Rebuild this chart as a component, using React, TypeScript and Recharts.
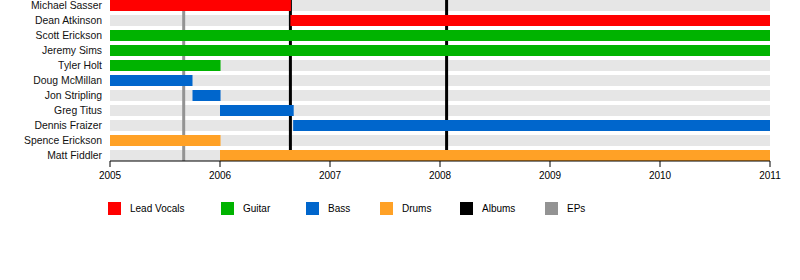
import React from 'react'
import {
  BarChart, Bar, XAxis, YAxis, ReferenceLine, Legend, Cell,
} from 'recharts'

// band members, top to bottom
const members = [
  'Michael Sasser', 'Dean Atkinson', 'Scott Erickson', 'Jeremy Sims', 'Tyler Holt',
  'Doug McMillan', 'Jon Stripling', 'Greg Titus', 'Dennis Fraizer', 'Spence Erickson', 'Matt Fiddler',
]
const roles = [
  'Lead Vocals', 'Lead Vocals', 'Guitar', 'Guitar', 'Guitar',
  'Bass', 'Bass', 'Bass', 'Bass', 'Drums', 'Drums',
]
const starts = [2005, 2006.64, 2005, 2005, 2005, 2005, 2005.75, 2006, 2006.665, 2005, 2006]
const ends = [2006.645, 2011, 2011, 2011, 2006.005, 2005.75, 2006.005, 2006.67, 2011, 2006.005, 2011]

const yearTicks = [2005, 2006, 2007, 2008, 2009, 2010, 2011]
const albumDates = [2006.64, 2008.06]
const epDates = [2005.67]

const legendItems = ['Lead Vocals', 'Guitar', 'Bass', 'Drums', 'Albums', 'EPs']
// horizontal slot of each legend entry, px
const legendSlots = [113, 85, 74, 80, 85, 60]

const COLORS: Record<string, string> = {
  'Lead Vocals': '#ff0000',
  Guitar: '#00b300',
  Bass: '#0066cc',
  Drums: '#ffa126',
  Albums: '#000000',
  EPs: '#939393',
}

const FONT = '"Liberation Sans", Arial, sans-serif'

const data = members.map((name, i) => ({
  name,
  role: roles[i],
  span: [starts[i], ends[i]],
  full: [yearTicks[0], yearTicks[yearTicks.length - 1]],
}))

function TimelineLegend() {
  return (
    <div style={{ display: 'flex', height: 20, alignItems: 'center', paddingLeft: 108, fontFamily: FONT, fontSize: 10, color: '#000' }}>
      {legendItems.map((item, i) => (
        <div key={item} style={{ display: 'flex', alignItems: 'center', width: legendSlots[i] }}>
          <span style={{ width: 13, height: 13, background: COLORS[item], display: 'inline-block', marginRight: 9 }} />
          <span>{item}</span>
        </div>
      ))}
    </div>
  )
}

export default function App() {
  return (
    <div style={{ position: 'absolute', left: 0, top: 0, width: 800, height: 280, background: '#fff' }}>
      <BarChart
        width={800}
        height={280}
        data={data}
        layout="vertical"
        margin={{ top: 0, right: 30, left: 0, bottom: 62 }}
        barSize={11}
        barGap={-11}
      >
        <XAxis
          type="number"
          domain={[2005, 2011]}
          ticks={yearTicks}
          height={37}
          tickSize={6}
          tickMargin={5}
          stroke="#000"
          tick={{ fontSize: 10, fill: '#000', fontFamily: FONT }}
          allowDataOverflow
        />
        <YAxis
          type="category"
          dataKey="name"
          width={110}
          interval={0}
          tickLine={false}
          axisLine={false}
          padding={{ top: -2, bottom: -2 }}
          tick={{ fontSize: 10.4, fill: '#111', fontFamily: FONT }}
        />
        <Bar dataKey="full" fill="#e6e6e6" isAnimationActive={false} zIndex={100} />
        {epDates.map((d) => (
          <ReferenceLine key={'ep' + d} x={d} stroke={COLORS.EPs} strokeWidth={3} zIndex={200} />
        ))}
        {albumDates.map((d) => (
          <ReferenceLine key={'al' + d} x={d} stroke={COLORS.Albums} strokeWidth={3} zIndex={200} />
        ))}
        <Bar dataKey="span" isAnimationActive={false} zIndex={300}>
          {data.map((d, i) => (
            <Cell key={i} fill={COLORS[d.role]} />
          ))}
        </Bar>
        <Legend verticalAlign="bottom" content={() => <TimelineLegend />} />
      </BarChart>
    </div>
  )
}
